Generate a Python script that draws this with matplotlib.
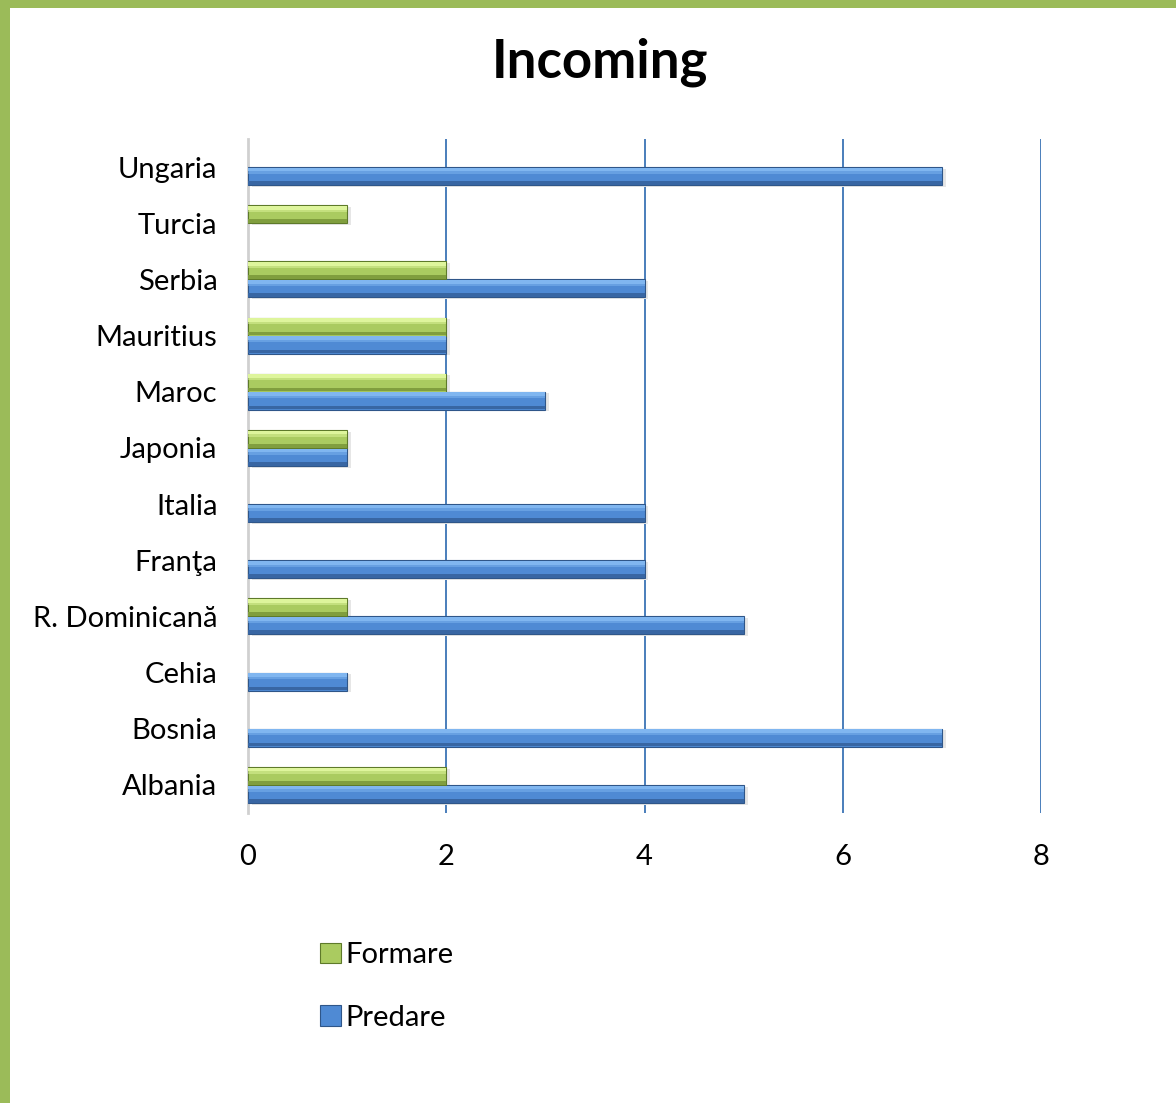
import numpy as np
import matplotlib.pyplot as plt
from matplotlib.patches import Rectangle

# date (de jos in sus, ca in grafic)
tari = ["Albania", "Bosnia", "Cehia", "R. Dominicană", "Franţa", "Italia",
        "Japonia", "Maroc", "Mauritius", "Serbia", "Turcia", "Ungaria"]
predare = [5, 7, 1, 5, 4, 4, 1, 3, 2, 4, 0, 7]
formare = [2, 0, 0, 1, 0, 0, 1, 2, 2, 2, 1, 0]
x_ticks = [0, 2, 4, 6, 8]

plt.rcParams['font.family'] = ['Lato', 'DejaVu Sans']

W, H = 1176, 1103
fig = plt.figure(figsize=(W / 100, H / 100), dpi=100)
fig.patch.set_facecolor('#9bbb59')
# fundal alb (rama verde sus si stanga)
fig.add_artist(Rectangle((10 / W, 0), 1, (H - 8) / H, transform=fig.transFigure,
                         facecolor='white', edgecolor='none', zorder=0))

ax = fig.add_axes([248 / W, 1 - 813 / H, (1041 - 248) / W, (813 - 139) / H])
ax.set_facecolor('none')

y = np.arange(len(tari))
h = 0.32
off = 0.16

def bevel_bars(vals, ypos, c, c_hi, c_lo, c_edge, label):
    vals = np.array(vals)
    m = vals > 0
    yy, vv = ypos[m], vals[m]
    # umbra
    ax.barh(yy - 0.03, vv, height=h, left=0.04, color='#e6e6e6', zorder=2)
    b = ax.barh(yy, vv, height=h, color=c, edgecolor=c_edge, linewidth=0.8,
                zorder=3, label=label)
    # efect de relief: benzi mai deschise sus, mai inchise jos
    ax.barh(yy + h * 0.36, vv, height=h * 0.2, color=c_hi, linewidth=0,
            zorder=4)
    ax.barh(yy + h * 0.2, vv, height=h * 0.14, color=c_hi, alpha=0.5,
            linewidth=0, zorder=4)
    ax.barh(yy - h * 0.38, vv, height=h * 0.2, color=c_lo, linewidth=0,
            zorder=4)
    return b

bp = bevel_bars(predare, y - off, '#4f8ad4', '#80b6f0', '#3866a3', '#2f5689',
                'Predare')
bf = bevel_bars(formare, y + off, '#aacb60', '#def59c', '#809e3e', '#5e7a2a',
                'Formare')

ax.set_xlim(0, 8)
ax.set_ylim(-0.5, len(tari) - 0.5)
ax.set_xticks(x_ticks)
ax.set_yticks(y)
ax.set_yticklabels(tari)
ax.tick_params(axis='both', length=0, labelsize=21, colors='black')
ax.tick_params(axis='y', pad=22)
ax.tick_params(axis='x', pad=22)
ax.grid(axis='x', color='#4a7ebb', linewidth=1.4, zorder=1)
ax.set_axisbelow(True)
for s in ['top', 'right', 'bottom']:
    ax.spines[s].set_visible(False)
ax.spines['left'].set_color('#d0d0d0')
ax.spines['left'].set_linewidth(2)

fig.text(600 / W, 1 - 62 / H, 'Incoming', ha='center', va='center',
         fontsize=38, fontweight='bold')

leg = fig.legend([bf, bp], ['Formare', 'Predare'], loc='upper left',
                 bbox_to_anchor=(294 / W, 1 - 916 / H), frameon=False,
                 fontsize=21, handlelength=0.7, handleheight=0.7,
                 handletextpad=0.15, labelspacing=1.25)

fig.savefig('out.png', dpi=100, facecolor=fig.get_facecolor())
